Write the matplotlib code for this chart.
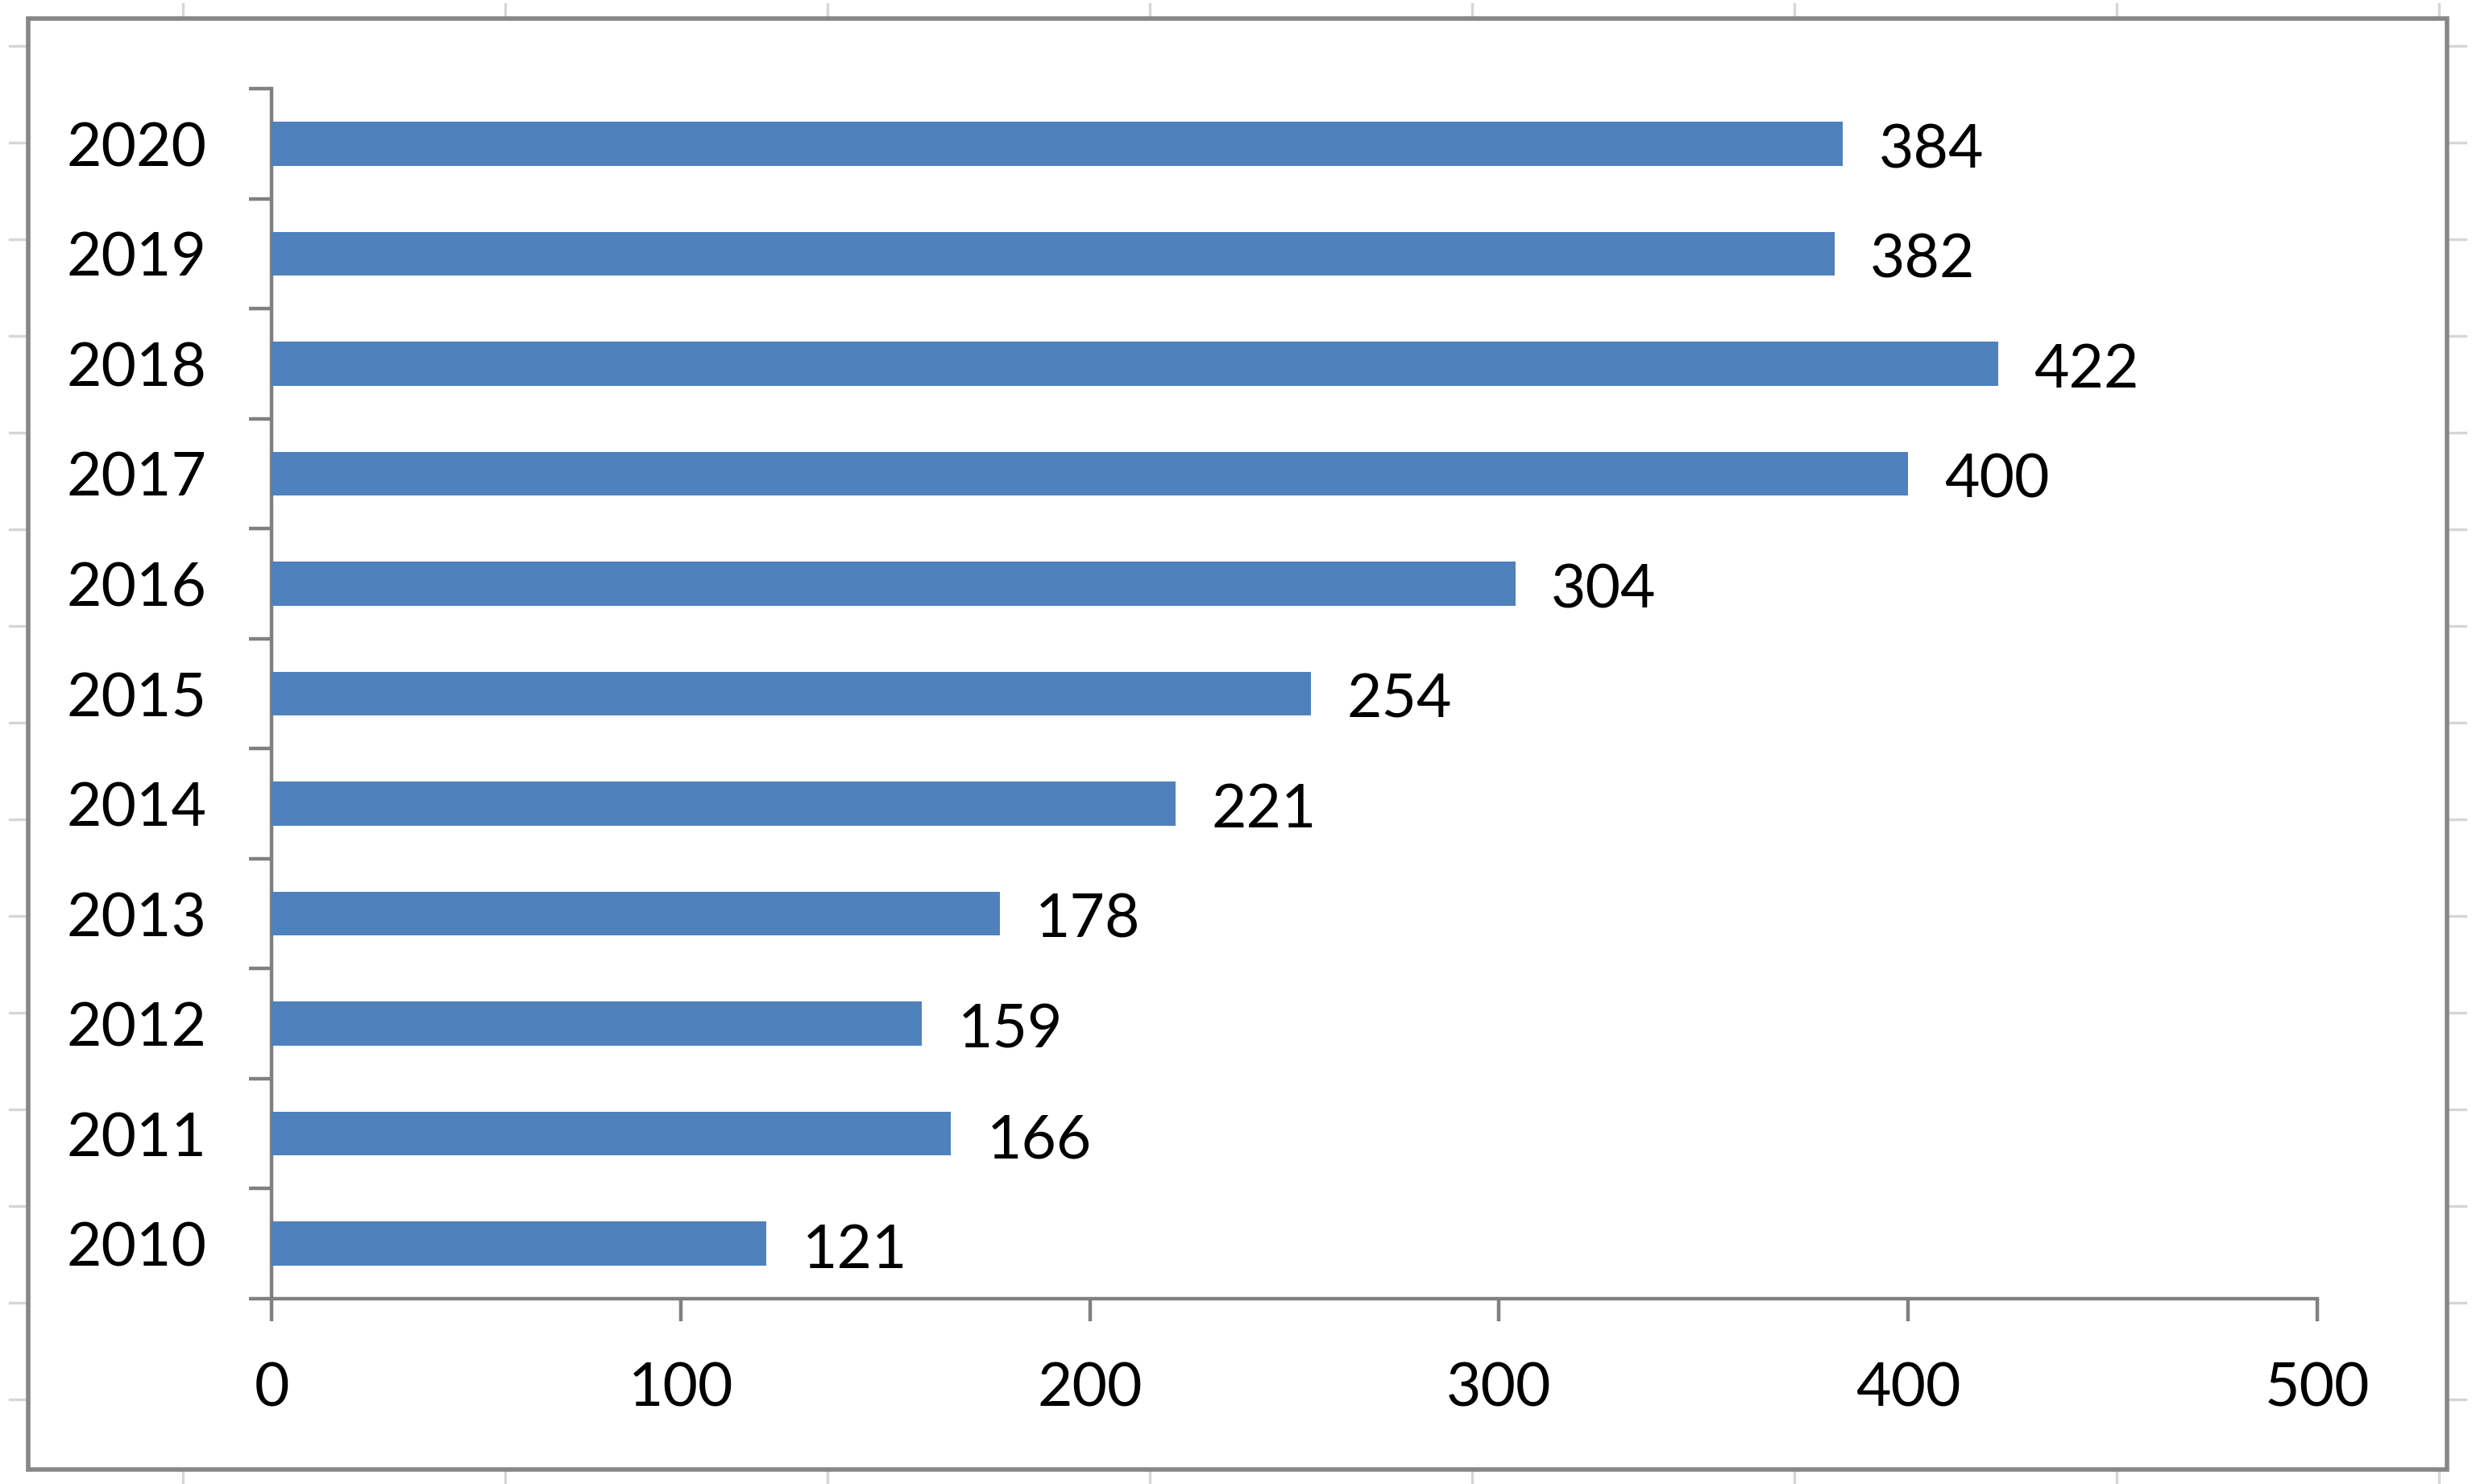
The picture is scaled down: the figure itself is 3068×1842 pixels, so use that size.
import matplotlib
matplotlib.use("Agg")
import matplotlib.pyplot as plt
from matplotlib.lines import Line2D
from matplotlib.patches import Rectangle
import numpy as np

years = ["2010", "2011", "2012", "2013", "2014", "2015", "2016", "2017", "2018", "2019", "2020"]
values = [121, 166, 159, 178, 221, 254, 304, 400, 422, 382, 384]
x_ticks = [0, 100, 200, 300, 400, 500]

W, H = 3068, 1842
DPI = 200
fig = plt.figure(figsize=(W / DPI, H / DPI), dpi=DPI)
fig.patch.set_facecolor("white")

FONT = ["Lato", "DejaVu Sans"]
FS = 27
SPINE = "#808080"

ax = fig.add_axes([337 / W, 1 - 1612 / H, (2876 - 337) / W, (1612 - 110) / H])
ypos = np.arange(len(years))
bars = ax.barh(ypos, values, height=0.4, color="#4F81BD", zorder=3)

ax.set_xlim(0, 500)
ax.set_ylim(-0.5, len(years) - 0.5)
ax.set_xticks(x_ticks)
ax.set_xticklabels([str(t) for t in x_ticks], fontsize=FS, family=FONT)
ax.set_yticks(ypos)
ax.set_yticklabels(years, fontsize=FS, family=FONT)
ax.set_yticks(np.arange(-0.5, len(years), 1.0), minor=True)

for s in ["top", "right"]:
    ax.spines[s].set_visible(False)
for s in ["left", "bottom"]:
    ax.spines[s].set_color(SPINE)
    ax.spines[s].set_linewidth(1.6)

ax.tick_params(axis="y", which="major", length=0, pad=29)
ax.tick_params(axis="y", which="minor", length=10, width=1.6, color=SPINE, direction="out")
ax.tick_params(axis="x", which="major", length=10, width=1.6, color=SPINE, direction="out", pad=18)

for b, v in zip(bars, values):
    ax.annotate(str(v), xy=(v, b.get_y() + b.get_height() / 2), xytext=(16, -3),
                textcoords="offset points", ha="left", va="center",
                fontsize=FS, family=FONT, color="black")

# chart area border
fig.add_artist(Rectangle((35 / W, 1 - 1824 / H), (3037 - 35) / W, (1824 - 23) / H,
                         transform=fig.transFigure, fill=False, edgecolor="#878787",
                         linewidth=2.0, zorder=5))

# faint spreadsheet gridline stubs outside the chart
grid_c = "#d6d6d6"
for yy in range(57, 1842, 120):
    fy = 1 - yy / H
    fig.add_artist(Line2D([12 / W, 35 / W], [fy, fy], transform=fig.transFigure, color=grid_c, lw=1.2))
    fig.add_artist(Line2D([3037 / W, 3060 / W], [fy, fy], transform=fig.transFigure, color=grid_c, lw=1.2))
for xx in range(227, 3068, 400):
    fx = xx / W
    fig.add_artist(Line2D([fx, fx], [1 - 1824 / H, 1 - 1840 / H], transform=fig.transFigure, color=grid_c, lw=1.2))
    fig.add_artist(Line2D([fx, fx], [1 - 5 / H, 1 - 23 / H], transform=fig.transFigure, color=grid_c, lw=1.2))

fig.savefig("out.png", dpi=DPI, facecolor="white")
